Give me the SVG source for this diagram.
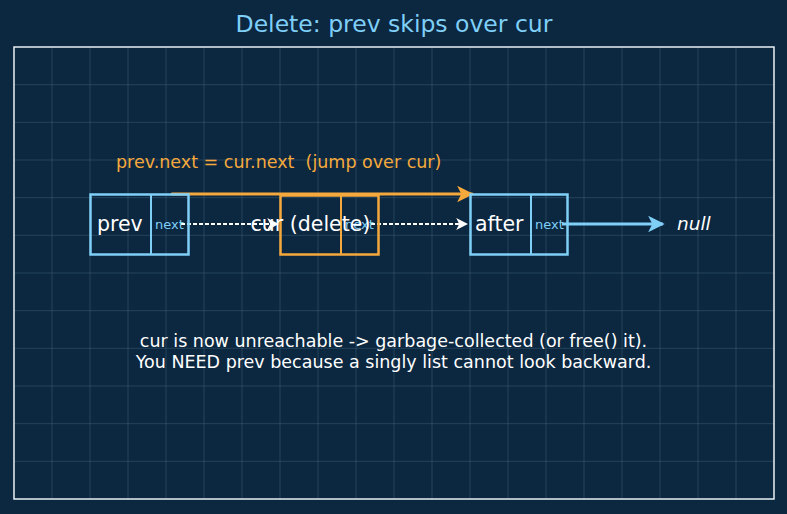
<svg xmlns="http://www.w3.org/2000/svg" width="787" height="514" viewBox="0 0 787 514">
<defs>
<style>
text{font-family:"DejaVu Sans","Liberation Sans",sans-serif}
.grid line{stroke:#3b5a74;stroke-width:0.8;opacity:0.7}
.box{fill:none;stroke-width:2.5}
.blue{stroke:#7fcff7}
.orange{stroke:#f5a93c}
.val{fill:#ffffff;font-size:20.5px}
.nxt{fill:#7fcff7;font-size:13px}
</style>
<marker id="aw" viewBox="0 0 10 10" refX="9" refY="5" markerWidth="6" markerHeight="6" orient="auto"><path d="M0,0 L10,5 L0,10 L2.5,5 z" fill="#ffffff"/></marker>
<marker id="ab" viewBox="0 0 10 10" refX="9" refY="5" markerWidth="5.5" markerHeight="5.5" orient="auto"><path d="M0,0 L10,5 L0,10 L2.5,5 z" fill="#7fcff7"/></marker>
<marker id="ao" viewBox="0 0 10 10" refX="9" refY="5" markerWidth="5.5" markerHeight="5.5" orient="auto"><path d="M0,0 L10,5 L0,10 L2.5,5 z" fill="#f5a93c"/></marker>
</defs>
<rect width="787" height="514" fill="#0c2740"/>
<g class="grid">
<line x1="52" y1="47" x2="52" y2="499"/><line x1="90" y1="47" x2="90" y2="499"/><line x1="128" y1="47" x2="128" y2="499"/><line x1="166" y1="47" x2="166" y2="499"/><line x1="204" y1="47" x2="204" y2="499"/><line x1="242" y1="47" x2="242" y2="499"/><line x1="280" y1="47" x2="280" y2="499"/><line x1="318" y1="47" x2="318" y2="499"/><line x1="356" y1="47" x2="356" y2="499"/><line x1="394" y1="47" x2="394" y2="499"/><line x1="432" y1="47" x2="432" y2="499"/><line x1="470" y1="47" x2="470" y2="499"/><line x1="508" y1="47" x2="508" y2="499"/><line x1="546" y1="47" x2="546" y2="499"/><line x1="584" y1="47" x2="584" y2="499"/><line x1="622" y1="47" x2="622" y2="499"/><line x1="660" y1="47" x2="660" y2="499"/><line x1="698" y1="47" x2="698" y2="499"/><line x1="736" y1="47" x2="736" y2="499"/>
<line x1="14" y1="84.7" x2="774" y2="84.7"/><line x1="14" y1="122.3" x2="774" y2="122.3"/><line x1="14" y1="160" x2="774" y2="160"/><line x1="14" y1="197.7" x2="774" y2="197.7"/><line x1="14" y1="235.3" x2="774" y2="235.3"/><line x1="14" y1="273" x2="774" y2="273"/><line x1="14" y1="310.7" x2="774" y2="310.7"/><line x1="14" y1="348.3" x2="774" y2="348.3"/><line x1="14" y1="386" x2="774" y2="386"/><line x1="14" y1="423.7" x2="774" y2="423.7"/><line x1="14" y1="461.3" x2="774" y2="461.3"/>
</g>
<rect x="14" y="47" width="760" height="452" fill="none" stroke="#e8f0f4" stroke-width="1.5"/>
<text x="394" y="32" text-anchor="middle" fill="#7fcff7" font-size="23.5">Delete: prev skips over cur</text>
<g id="connectors">
<line x1="172" y1="194" x2="472" y2="194" stroke="#f5a93c" stroke-width="3" stroke-linecap="round" marker-end="url(#ao)"/>
<line x1="181" y1="224" x2="278" y2="224" stroke="#ffffff" stroke-width="2" stroke-dasharray="4,2" marker-end="url(#aw)"/>
<line x1="371" y1="224" x2="467" y2="224" stroke="#ffffff" stroke-width="2" stroke-dasharray="4,2" marker-end="url(#aw)"/>
<line x1="562" y1="224" x2="663" y2="224" stroke="#7fcff7" stroke-width="3" marker-end="url(#ab)"/>
</g>
<g id="node-prev">
<rect class="box blue" x="90.5" y="194.5" width="98" height="60"/>
<line class="blue" x1="151" y1="194.5" x2="151" y2="254.5" stroke-width="2"/>
<text class="val" x="97" y="231">prev</text>
<text class="nxt" x="155" y="229">next</text>
</g>
<g id="node-cur">
<rect class="box orange" x="280.5" y="195.5" width="98" height="59"/>
<line class="orange" x1="341" y1="195.5" x2="341" y2="254.5" stroke-width="2"/>
<text class="nxt" x="345" y="229">next</text>
<text class="val" x="310.5" y="231" text-anchor="middle">cur (delete)</text>
</g>
<g id="node-after">
<rect class="box blue" x="470.5" y="194.5" width="97" height="60"/>
<line class="blue" x1="531" y1="194.5" x2="531" y2="254.5" stroke-width="2"/>
<text class="val" x="475" y="231">after</text>
<text class="nxt" x="535" y="229">next</text>
</g>
<g id="node-null">
<text x="677" y="230" fill="#ffffff" font-size="18.5" font-style="italic">null</text>
</g>
<text x="116" y="168" fill="#f5a93c" font-size="17.5" xml:space="preserve">prev.next = cur.next  (jump over cur)</text>
<g fill="#ffffff" font-size="17.5" text-anchor="middle">
<text x="393.5" y="347">cur is now unreachable -&gt; garbage-collected (or free() it).</text>
<text x="393.5" y="368">You NEED prev because a singly list cannot look backward.</text>
</g>
</svg>
